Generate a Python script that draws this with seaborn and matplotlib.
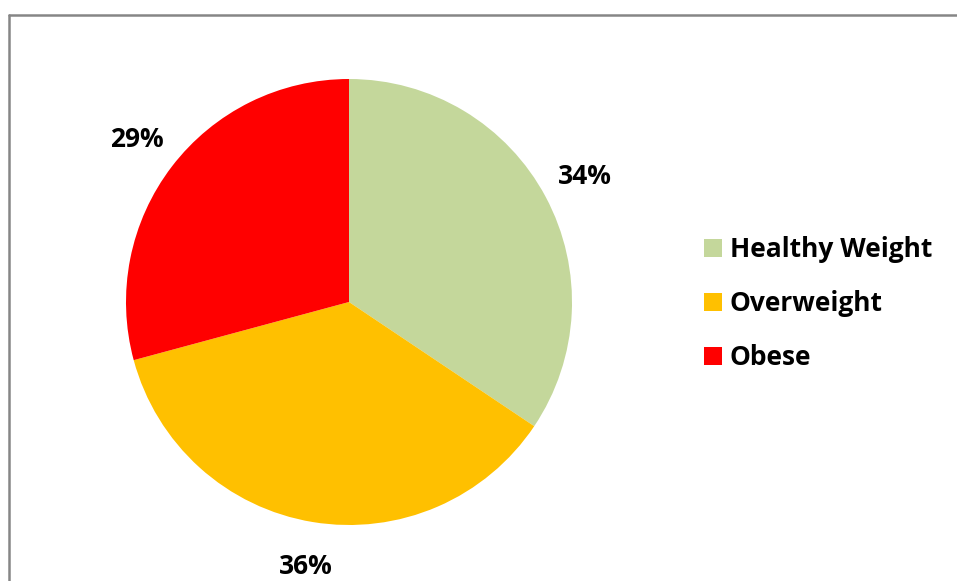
import matplotlib
matplotlib.use("Agg")
import matplotlib.pyplot as plt
import seaborn as sns
from matplotlib.lines import Line2D
from matplotlib.patches import Patch

sns.set_theme(style="white")
plt.rcParams['font.family'] = ['Open Sans', 'DejaVu Sans']

categories = ["Healthy Weight", "Overweight", "Obese"]
values = [34.4, 36.4, 29.2]
labels = ["34%", "36%", "29%"]
colors = ["#C4D79B", "#FFC000", "#FF0000"]

W, H = 957, 581
fig = plt.figure(figsize=(W / 100, H / 100), dpi=100)
fig.patch.set_facecolor("white")

# border
fig.add_artist(Line2D([8.5 / W, 8.5 / W], [0, 1 - 14.5 / H], transform=fig.transFigure,
                      color="#868686", lw=1.8))
fig.add_artist(Line2D([8.5 / W, 1], [1 - 14.5 / H, 1 - 14.5 / H], transform=fig.transFigure,
                      color="#868686", lw=1.8))

cx, cy, r = 349, 302, 223
ax = fig.add_axes([(cx - r) / W, 1 - (cy + r) / H, 2 * r / W, 2 * r / H])
wedges, texts = ax.pie(values, colors=colors, startangle=90, counterclock=False,
                       labels=labels, labeldistance=1.2,
                       textprops=dict(fontsize=19, fontweight="bold", color="black"),
                       wedgeprops=dict(linewidth=0))
for t in texts:
    t.set_ha("center")
    t.set_va("center")
ax.set_aspect("equal")
ax.set_xlim(-1, 1)
ax.set_ylim(-1, 1)

handles = [Patch(facecolor=c, edgecolor="none") for c in colors]
leg = fig.legend(handles, categories, loc="upper left", bbox_to_anchor=(704 / W, 1 - 236 / H),
                 frameon=False, prop=dict(size=19, weight="bold"),
                 handlelength=0.68, handleheight=0.68, handletextpad=0.3, labelspacing=1.02,
                 borderaxespad=0, borderpad=0)
for t in leg.get_texts():
    t.set_color("black")

fig.savefig("out.png", dpi=100, facecolor="white")
